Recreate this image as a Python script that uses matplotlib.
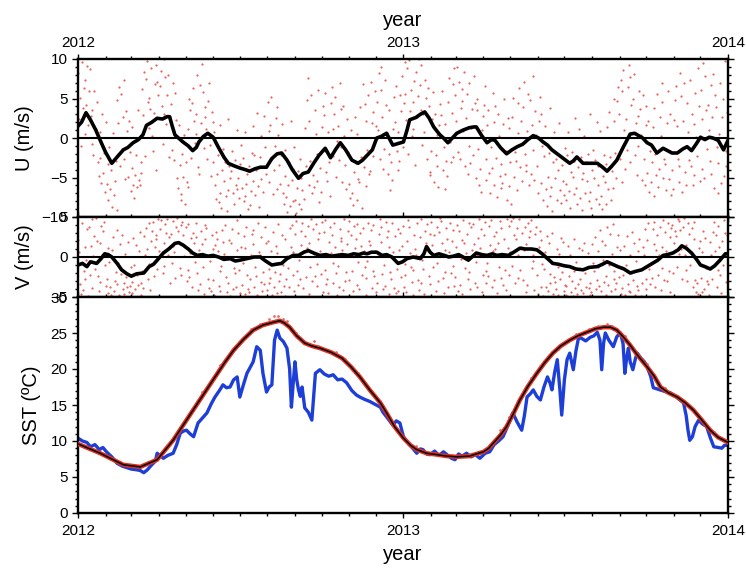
import numpy as np
import matplotlib
matplotlib.use('Agg')
import matplotlib.pyplot as plt
import matplotlib.dates as mdates
from matplotlib.ticker import MultipleLocator

plt.rcParams['font.family'] = ['Liberation Sans', 'DejaVu Sans']

# ---------------- data (days since 2012-01-01) ----------------
u_line_days = [0,4,9,14,20,25,31,38,44,51,56,62,68,73,77,83,89,95,100,103,106,109,114,118,124,129,133,136,141,146,
               152,158,164,169,175,182,188,193,199,205,212,218,224,229,235,241,248,253,259,265,271,278,284,290,295,
               301,308,315,320,325,331,336,341,347,354,360,366,370,373,380,385,390,395,400,407,411,416,421,426,433,
               440,445,448,454,460,465,469,475,482,488,494,500,506,512,518,523,528,533,540,547,553,557,561,568,576,
               584,590,595,600,606,613,621,626,629,635,640,645,651,658,663,668,674,680,685,690,695,700,705,710,714,
               720,726,731]
u_line_vals = [1.5,2.0,3.2,2.3,1.0,-0.3,-1.8,-3.2,-2.4,-1.5,-1.2,-0.6,-0.2,0.4,1.6,2.0,2.5,2.4,2.7,2.7,1.5,0.4,-0.1,-0.5,
               -1.0,-1.6,-1.2,-0.5,0.2,0.6,0.1,-1.2,-2.4,-3.2,-3.5,-3.8,-4.0,-4.2,-3.9,-3.7,-3.7,-2.6,-2.0,-1.9,-2.8,
               -4.0,-5.1,-4.5,-4.3,-3.2,-2.2,-1.3,-2.5,-1.4,-0.6,-1.5,-2.8,-3.2,-2.8,-2.2,-1.5,0.0,0.2,0.6,-0.9,-0.7,
               -0.5,1.0,2.3,2.6,3.0,3.3,2.5,1.4,0.4,0.0,-0.6,0.0,0.6,1.0,1.3,1.4,1.4,0.3,-0.6,-0.2,-0.3,-1.2,-2.0,
               -1.5,-1.1,-0.8,-0.2,0.3,0.0,-0.5,-0.9,-1.5,-2.1,-2.7,-3.2,-2.9,-2.4,-3.2,-3.2,-3.2,-3.7,-4.2,-3.6,
               -2.8,-1.2,0.5,0.6,0.4,0.0,-0.6,-0.9,-1.9,-1.3,-1.6,-1.9,-1.9,-1.4,-1.1,-1.6,-0.8,0.1,-0.2,0.1,0.0,
               -0.3,-1.5,-0.3]

v_line_days = [0,5,10,14,21,26,30,34,38,44,49,55,60,66,74,80,85,89,96,102,109,113,118,124,129,134,140,146,152,158,
               164,171,177,182,190,198,205,211,218,223,229,235,242,248,254,259,265,272,279,285,291,297,304,310,316,
               321,325,330,336,342,347,353,360,365,370,377,381,385,389,392,396,400,406,412,417,422,428,433,439,444,
               448,454,460,466,471,477,484,490,497,503,510,516,522,528,534,540,547,553,560,568,575,584,590,595,601,
               607,614,621,627,634,640,646,652,658,663,669,675,679,684,690,695,700,705,711,716,722,728,731]
v_line_vals = [-1.0,-0.8,-1.2,-0.6,-0.8,-0.2,0.4,0.3,0.0,-0.8,-1.6,-2.1,-2.4,-2.1,-2.0,-1.2,-0.9,-0.4,0.5,1.0,1.7,1.8,
               1.5,1.0,0.5,0.2,0.3,0.1,0.2,0.0,-0.3,-0.2,-0.5,-0.4,-0.2,0.0,0.0,-0.5,-1.0,-0.9,-0.8,-0.2,0.2,0.2,0.6,
               0.8,0.5,0.2,0.3,0.1,0.2,0.3,0.2,0.4,0.3,0.5,0.4,0.6,0.6,0.2,0.3,0.0,-0.8,-0.6,-0.2,0.0,-0.1,-0.2,0.4,
               1.3,0.6,0.2,0.4,0.2,0.0,0.1,0.3,0.0,-0.4,0.1,0.5,0.3,0.2,0.4,0.2,0.3,0.2,0.6,1.1,1.0,1.0,0.9,0.4,-0.2,
               -0.8,-0.9,-1.1,-1.2,-1.5,-1.6,-1.3,-1.2,-0.9,-0.6,-0.9,-1.2,-1.5,-2.0,-1.8,-1.6,-1.2,-0.8,-0.4,0.2,
               0.3,0.5,0.9,1.4,1.1,0.5,-0.2,-1.0,-1.2,-1.5,-1.1,-0.4,0.4,0.4]

# scattered wind observations: 4 values per 4-day slot
u_dots = [
    [8.2,5.1,2.4,-1.0],[9.6,6.3,3.8,0.5],[7.4,9.1,4.2,1.6],[6.0,2.8,8.7,-0.8],[3.5,5.9,-2.2,1.1],[1.2,-3.0,4.6,-4.8],
    [-2.5,-5.7,0.8,3.1],[-4.4,-6.8,-1.9,2.0],
    [-5.8,-7.9,-3.3,-1.2],[-6.4,-8.7,-4.1,0.6],[-7.2,-2.9,-5.5,-9.1],[4.8,6.5,1.9,-3.6],[5.6,2.7,-1.4,7.3],
    [-2.6,3.4,-5.2,0.9],[-4.9,-1.8,2.2,-6.7],
    [-3.8,-5.9,1.4,-7.6],[-4.7,-6.2,-2.1,3.5],[-5.3,-4.4,-6.0,-3.0],[6.2,8.4,2.9,-2.3],[7.5,4.6,9.8,1.3],
    [5.1,8.9,3.7,0.2],[-1.6,6.8,3.2,-4.0],[9.3,5.5,7.1,2.5],
    [6.6,4.1,8.5,-0.7],[3.0,7.7,10.0,1.8],[5.4,-2.4,8.0,2.6],[4.3,6.9,-1.5,1.0],[-2.8,2.3,5.7,-5.0],
    [-6.3,-3.4,1.7,-7.8],[-7.1,-4.9,-2.0,0.4],
    [-8.4,-5.6,-3.0,1.2],[-6.2,3.6,5.0,-2.5],[4.4,2.2,6.3,-0.6],[3.1,8.0,0.5,-3.7],[-4.6,1.9,6.7,9.4],
    [5.8,2.7,-1.3,3.9],[1.1,4.7,-2.6,7.0],[-0.9,3.3,-4.8,2.0],
    [-3.1,-6.0,0.8,-7.7],[-4.5,-8.1,-2.2,1.6],[-6.9,-4.0,-8.8,-1.4],[-5.4,-7.3,-3.0,-9.2],[-6.6,-3.5,2.4,-5.0],
    [-4.2,-7.0,-1.7,-8.3],[-2.8,1.0,-5.9,-6.4],[-5.1,-3.3,-7.6,-0.9],
    [-6.3,-8.0,-2.5,0.7],[-7.4,-4.6,-5.8,-9.0],[-3.6,-6.7,-8.5,-1.9],[-5.5,-2.1,1.5,-7.2],[-4.0,-6.1,3.2,-8.7],
    [-2.4,-5.2,0.3,-3.7],[-6.8,-1.2,2.8,-4.5],
    [-3.3,0.9,4.6,-5.6],[1.7,-2.6,5.2,-7.1],[-4.1,2.5,-1.0,-6.4],[3.9,-3.4,0.4,-5.8],[-2.2,-6.9,1.8,-8.3],
    [-4.8,-7.5,-1.5,-9.4],[-6.0,-8.6,-3.1,2.2],[-5.3,-8.0,-3.9,-1.1],
    [-7.8,-6.3,-9.5,-4.2],[-8.4,-5.0,-2.7,-9.0],[-6.6,-7.7,-4.4,1.3],[-3.6,7.6,4.8,-5.9],[2.1,5.5,-2.9,-7.0],
    [-4.7,3.6,-6.2,0.5],[-2.0,6.1,-5.4,-8.1],[-3.8,1.4,-6.8,4.0],
    [2.9,-1.6,5.7,-4.3],[-5.5,-3.0,0.7,-7.4],[4.4,-2.3,6.5,1.2],[3.0,-4.9,5.2,-0.4],[1.5,6.9,-2.8,3.7],
    [-1.2,4.1,-5.6,0.3],[-3.4,2.4,-6.5,-1.8],
    [-5.8,-7.6,-2.1,1.0],[-6.9,-4.3,-8.5,2.6],[-3.2,-7.9,0.5,-5.2],[-5.6,-2.4,3.9,-8.8],[6.8,4.3,-3.7,-6.1],
    [2.2,5.4,-1.5,-4.6],[-4.2,1.9,7.1,-2.3],[3.3,6.0,-0.8,1.5],
    [4.6,8.2,1.0,-2.7],[6.1,2.6,9.0,-3.9],[-1.4,4.2,7.4,0.6],[-4.5,-2.0,3.6,-6.6],[-3.1,1.1,-5.3,5.2],
    [2.0,-1.7,6.6,-4.0],[0.8,5.5,-2.9,3.4],
    [7.8,4.4,-1.1,9.6],[5.6,8.8,2.3,-2.0],[9.9,6.1,3.4,0.3],[4.6,7.2,1.2,-3.4],[8.4,5.3,2.7,10.0],
    [6.7,3.6,9.2,-0.9],[3.0,7.4,0.8,5.1],[-2.6,4.0,6.3,-4.7],
    [-4.3,2.4,-1.7,5.8],[-5.6,-2.2,3.1,0.4],[-3.5,1.6,-6.2,4.3],[2.9,-4.1,6.0,-1.1],[-6.4,-2.9,1.8,-4.8],
    [4.5,-0.5,7.6,-3.0],[3.2,6.8,-2.4,8.9],
    [5.4,9.0,2.1,-1.8],[7.1,3.8,-2.7,6.2],[4.7,8.3,0.9,-3.5],[2.5,-4.6,5.6,-1.0],[6.9,1.3,-3.2,3.7],
    [-2.2,4.4,7.8,-5.1],[3.6,-1.4,5.0,-6.0],[-3.9,1.0,-6.8,2.8],
    [4.2,-2.6,6.6,-5.3],[1.6,-4.4,3.5,-7.0],[-1.2,5.7,-3.8,2.0],[-5.9,-2.5,4.1,-7.5],[3.0,-4.8,0.2,-6.3],
    [-3.3,1.8,-5.7,4.9],[-4.5,-7.8,-1.6,2.5],
    [-6.1,-3.0,1.3,-8.4],[2.7,-4.9,5.1,-1.8],[-2.9,4.4,-6.6,0.6],[6.3,2.1,-3.7,-5.5],[3.9,-2.0,7.1,-4.2],
    [-3.4,5.6,0.9,-6.0],[4.8,1.7,-4.5,7.9],[-1.5,3.4,-5.3,0.4],
    [-3.6,2.2,-6.9,5.2],[-5.7,-1.0,3.0,-7.9],[-2.3,-6.4,1.5,-8.6],[-4.9,-7.4,-1.9,3.8],[-6.2,-3.1,-9.3,0.7],
    [-5.0,-7.8,-2.6,-10.0],[-4.1,-6.6,1.9,-8.2],[-3.4,-7.2,-5.5,-1.3],
    [-5.8,-2.2,-7.9,0.8],[-6.7,-4.3,-8.8,-1.8],[-4.9,-7.1,-2.9,2.5],[-6.3,-3.7,-8.4,1.2],[-7.6,-5.2,-2.4,-9.1],
    [-4.4,-6.9,0.3,-3.0],[-5.5,-8.0,-2.0,3.1],
    [-6.8,-4.0,-8.9,-1.5],[-5.1,-7.7,-2.8,2.0],[-6.0,-8.3,-3.6,0.9],[-7.3,-4.8,-9.0,-2.1],[-5.6,-8.4,-3.3,1.4],
    [-6.5,-2.4,3.3,-7.9],[-4.2,2.2,-6.3,5.0],[-1.9,4.7,-5.0,6.5],
    [3.1,7.3,-2.7,-5.6],[5.9,1.0,8.6,-3.9],[2.4,6.5,-1.5,9.3],[-3.0,4.2,7.7,0.6],[5.0,-2.2,8.1,1.9],
    [-4.7,2.8,-1.0,6.0],[3.7,-5.3,0.4,5.5],[-2.6,1.6,-6.0,4.1],
    [-4.4,-6.8,2.2,-1.7],[-5.6,1.4,-3.1,-7.4],[3.8,-4.7,-2.0,5.6],[-6.2,2.6,-3.9,0.2],[4.5,-5.0,7.0,-2.6],
    [-3.3,1.9,-6.6,5.9],[-5.2,3.0,-1.6,-7.2],
    [-4.0,2.3,-6.4,4.8],[6.6,-2.7,1.5,-5.6],[-3.5,5.3,8.2,-6.8],[2.1,-4.3,6.9,-1.2],[-5.9,0.7,4.4,-2.8],
    [7.4,3.1,-3.6,-6.0],[1.8,5.7,-4.7,0.1],[-2.3,4.0,8.8,-5.4],
    [6.1,2.4,-3.9,9.5],[-5.0,3.6,7.8,-1.4],[4.2,-2.9,1.0,6.7],[-4.6,8.1,2.7,-6.3],[5.4,-1.1,3.9,-7.0],
    [-3.2,6.9,0.5,-5.7],[2.6,-4.8,5.0,9.7],[-1.7,3.3,-3.6,1.2],
]

v_dots = [
    [2.1,-3.4,0.6,-4.6],[4.3,-1.8,-4.1,1.2],[-2.7,3.5,-0.4,-4.9],[3.8,1.4,-2.2,4.7],[-3.9,2.6,0.1,-1.5],
    [4.9,-2.4,2.0,-4.2],[1.7,3.9,-3.1,0.3],[3.2,-1.0,4.4,-3.6],
    [-2.8,-4.5,1.1,-0.6],[-3.7,0.9,-4.8,2.5],[-4.2,-1.9,-3.0,3.4],[-3.4,-4.7,-0.8,1.6],[-2.1,-4.0,2.8,-3.2],
    [-4.6,-2.5,0.4,-3.8],[1.9,-3.6,-4.4,-1.3],
    [-3.1,2.4,-4.5,-1.0],[-4.0,-2.2,1.5,-3.5],[0.8,-3.3,3.1,-4.8],[-1.7,2.6,-3.9,0.2],[3.6,-2.8,1.0,4.2],
    [-0.9,2.0,-4.1,3.3],[4.4,1.3,-2.4,2.7],[2.2,4.8,-1.5,0.7],
    [3.5,0.4,4.6,-2.0],[1.8,4.1,-1.1,3.0],[4.7,2.5,0.2,-3.3],[2.9,4.5,-0.7,1.4],[0.6,3.8,-2.6,4.9],
    [3.3,-1.4,1.9,4.0],[-2.3,2.7,4.4,0.1],
    [1.2,-3.0,3.7,-1.6],[4.1,0.5,-2.5,2.4],[-3.8,1.7,3.0,-0.6],[2.5,-2.0,4.3,-4.1],[0.9,3.2,-3.4,1.6],
    [-1.3,4.0,-4.6,2.2],[3.6,-2.7,0.3,-3.9],[-0.5,2.8,-4.3,1.0],
    [-2.9,1.5,-4.7,3.1],[2.3,-3.6,0.7,-1.8],[-4.2,3.4,-1.1,1.9],[0.4,-2.5,4.0,-4.4],[-3.3,2.1,-0.2,-4.9],
    [1.7,-4.0,3.5,-1.4],[-2.0,0.9,-3.7,4.6],[3.0,-4.5,-1.6,1.3],
    [-3.5,2.6,-0.8,-4.6],[1.1,-2.3,3.8,-4.0],[-4.4,0.3,-2.7,2.9],[3.4,-3.8,1.6,-1.2],[-2.4,4.2,-4.7,0.6],
    [0.2,-3.1,2.5,-4.3],[-1.9,3.7,-3.4,1.8],
    [-4.1,-1.5,2.0,-3.2],[-2.6,-4.8,0.8,3.1],[-3.7,1.4,-1.9,-4.5],[0.5,-3.0,4.1,-2.1],[-4.4,-1.0,2.7,-3.6],
    [2.3,-2.7,-4.9,0.1],[-1.4,3.6,-3.8,1.2],[4.0,-2.2,0.6,-4.2],
    [2.9,-1.7,4.5,-3.5],[-0.4,3.3,-2.8,1.5],[4.3,0.8,-3.9,2.6],[-2.5,3.9,1.1,-4.6],[1.8,4.7,-1.2,-3.0],
    [3.5,-2.4,0.4,4.1],[-3.6,2.2,-0.9,3.0],[0.7,4.4,-2.1,-4.4],
    [3.1,-1.6,4.6,-3.4],[-2.7,1.9,-4.5,3.7],[0.5,-3.2,2.8,-0.8],[4.2,-2.0,1.3,-4.7],[-1.1,3.5,-3.8,2.0],
    [2.4,-4.1,0.9,4.8],[-3.0,1.6,-1.9,3.3],
    [4.5,0.2,-2.9,2.7],[-1.8,3.9,-4.3,1.1],[2.2,-3.5,4.1,-0.6],[-4.0,1.4,3.0,-2.3],[3.6,-1.3,0.7,-4.8],
    [-2.6,4.3,-0.5,2.0],[1.5,-3.9,3.4,-1.7],[4.0,0.8,-2.4,-4.4],
    [-3.3,2.9,0.4,4.7],[1.9,-2.1,3.8,-4.0],[-1.0,4.4,-3.6,2.5],[3.2,-4.6,1.2,-1.9],[-2.8,0.6,4.2,-3.9],
    [2.6,-1.5,-4.5,3.5],[-4.2,3.0,0.9,-2.5],
    [1.4,-3.7,3.9,-0.9],[-2.3,2.0,-4.4,4.6],[3.7,-1.2,0.5,-3.1],[-4.7,2.8,-1.6,1.0],[0.3,-2.9,4.3,-4.1],
    [2.5,4.8,-3.3,-0.4],[-1.5,3.3,-4.6,1.7],[4.1,-2.4,0.8,2.9],
    [-3.4,1.5,4.4,-1.2],[2.7,-4.3,0.1,3.8],[-0.7,3.1,-3.0,4.9],[4.5,-2.6,1.8,-4.5],[0.9,3.6,-1.9,2.3],
    [-3.8,4.2,0.6,-2.0],[2.0,-1.1,3.4,-3.6],
    [-2.5,4.0,1.3,-4.2],[3.3,-0.3,-3.5,2.1],[-4.6,1.8,4.6,-1.4],[0.5,-2.8,2.9,4.3],[-1.9,3.7,-4.0,0.9],
    [4.1,-3.3,1.6,-0.6],[-3.7,2.4,0.2,4.7],[1.1,-4.4,3.5,-2.2],
    [2.8,-1.7,4.4,-3.2],[-0.8,3.9,-2.4,1.5],[4.6,0.7,-3.8,2.6],[-2.9,3.1,1.0,-4.5],[1.7,4.5,-1.3,-2.6],
    [3.6,-3.5,0.4,2.2],[-1.6,4.8,-4.1,1.1],
    [3.9,0.6,-2.2,4.5],[-1.1,2.7,4.9,-3.3],[2.2,-2.6,3.6,0.3],[4.7,1.2,-1.6,3.0],[-2.9,3.8,0.9,-4.4],
    [1.6,4.3,-3.5,2.5],[3.3,-1.4,4.6,-0.5],[0.2,2.9,-4.1,3.7],
    [-2.2,1.3,-4.6,3.2],[-3.7,-0.9,2.1,-4.9],[-1.5,-3.8,0.6,2.6],[-4.3,-2.1,1.7,-3.3],[-0.7,-4.6,3.0,-2.5],
    [-3.1,1.0,-4.0,-1.3],[-4.8,-2.7,0.4,2.4],[-1.9,-4.2,1.9,-3.5],
    [-3.6,-1.1,-4.7,1.4],[-2.4,-4.4,0.3,-3.0],[-4.9,-1.8,2.2,-3.9],[-0.6,-3.4,-4.6,1.1],[-2.8,0.9,-4.1,-1.5],
    [-4.5,-2.0,1.8,-3.7],[-1.2,-3.9,0.5,-4.8],
    [-3.3,1.6,-4.4,-0.8],[-1.7,-4.0,2.5,-2.9],[0.7,-3.6,-1.3,3.4],[-4.2,-0.4,2.0,-3.1],[1.5,-2.4,-4.7,3.8],
    [-3.5,2.9,-1.0,-4.3],[0.4,-2.7,4.1,-1.8],[-4.0,1.2,-3.2,2.7],
    [-2.5,-4.6,0.9,-1.2],[-3.9,1.4,-2.2,-4.8],[-1.0,-3.4,2.6,-4.2],[-4.4,-2.0,0.2,3.1],[-2.9,-4.7,1.8,-0.5],
    [-3.6,0.8,-4.1,2.3],[-1.6,-3.2,-4.9,1.2],[0.3,-2.8,3.5,-4.0],
    [2.1,-1.5,4.3,-3.4],[-0.7,3.5,-2.6,1.6],[4.4,0.9,-3.8,2.8],[-2.2,3.8,0.3,-4.1],[1.3,4.6,-1.4,-2.9],
    [3.1,-3.0,0.7,4.2],[-1.8,2.5,-4.4,3.6],
    [4.0,1.7,-2.0,3.2],[2.6,4.8,-1.2,0.4],[4.5,1.0,3.4,-2.8],[3.7,0.2,4.9,-1.6],[1.5,4.2,-3.0,2.9],
    [-1.0,3.6,0.5,-3.8],[2.3,-2.9,4.4,-4.4],[-3.2,1.1,-4.6,2.0],
    [-2.6,0.6,-4.4,3.3],[-4.0,-1.4,2.4,-3.0],[-3.4,1.9,-4.8,0.3],[-1.3,3.1,-2.7,4.4],[0.8,-3.8,2.7,-1.6],
    [3.9,-2.3,1.2,-4.5],[2.0,4.6,-1.0,3.0],[-3.1,2.8,0.5,4.1],
]

sst_clim_days = [0,25,51,70,89,107,122,137,152,165,175,186,197,208,220,227,232,238,246,255,263,272,285,297,307,317,
                 328,340,347,356,366,374,381,392,404,415,426,440,456,462,467,475,482,490,497,506,516,525,534,543,553,
                 562,572,582,591,599,606,613,621,630,640,648,655,664,674,683,692,701,711,720,731]
sst_clim_vals = [9.6,8.3,6.7,6.4,7.4,10.1,12.9,15.7,18.5,20.9,22.6,24.1,25.4,26.1,26.5,26.7,26.4,25.8,24.6,23.6,23.2,
                 22.9,22.3,21.5,20.3,18.9,17.1,15.3,13.9,12.0,10.4,9.4,8.8,8.3,8.1,7.9,7.8,7.9,8.5,9.0,9.7,10.8,12.0,
                 13.9,15.7,17.6,19.4,20.9,22.2,23.2,24.0,24.6,25.1,25.6,25.8,25.8,25.4,24.5,23.3,21.8,20.3,19.0,17.5,
                 16.7,16.1,15.3,14.3,13.0,11.5,10.5,9.8]

sst_obs_days = [0,5,10,14,19,24,28,32,38,44,50,55,60,66,70,74,78,83,87,89,92,96,101,107,111,115,119,122,126,130,135,
                140,145,150,154,159,163,167,171,175,179,182,186,190,194,197,201,205,208,212,215,218,221,224,227,231,
                235,238,240,242,244,246,248,250,252,255,259,263,267,272,277,282,287,292,297,302,308,313,317,322,328,
                334,340,343,348,354,358,362,366,372,377,381,385,388,392,396,401,406,411,416,420,424,428,432,437,442,
                447,452,458,463,468,473,478,483,489,494,499,502,505,509,512,516,520,524,528,531,533,536,539,542,544,
                547,550,553,557,560,563,567,571,576,580,584,587,589,591,593,597,602,606,610,613,615,617,619,621,624,
                627,629,633,637,640,644,647,652,657,662,666,672,677,681,684,686,688,691,694,698,702,707,711,715,720,
                724,727,731]
sst_obs_vals = [10.4,10.0,9.8,9.2,9.5,8.8,9.1,8.5,7.8,6.9,6.5,6.3,6.1,6.0,5.9,5.6,6.0,6.7,7.2,8.3,8.0,7.6,8.0,8.3,9.5,
                11.1,11.4,11.5,11.0,10.6,12.5,13.2,13.9,15.2,16.1,17.0,17.8,17.4,17.5,18.5,18.9,16.1,17.8,19.4,20.3,
                21.0,23.1,22.6,19.4,16.8,17.5,17.8,24.0,25.4,24.3,23.8,22.9,20.0,14.7,18.0,21.0,18.5,17.1,16.2,17.5,
                14.6,14.0,12.9,19.4,19.9,19.3,19.0,19.2,18.5,18.6,18.1,17.0,16.4,16.1,15.8,15.5,15.1,14.7,14.0,13.2,
                12.2,12.8,12.5,10.6,9.6,8.9,8.3,8.9,8.8,8.2,8.1,8.6,8.0,8.5,8.0,7.6,7.4,8.2,7.9,8.3,7.8,8.1,7.6,8.3,
                8.5,9.5,10.0,10.6,12.0,13.9,12.6,11.5,13.5,16.1,16.6,17.1,16.2,15.7,17.5,18.9,18.0,17.1,19.5,21.3,
                17.0,13.6,18.5,21.3,22.2,19.9,22.5,24.4,24.2,23.9,24.4,24.6,25.1,24.0,19.9,23.5,25.0,24.0,23.1,24.5,
                25.0,23.5,19.4,21.5,22.9,21.0,19.9,21.5,22.2,21.5,21.0,20.3,19.0,17.4,17.2,17.0,16.8,16.7,16.2,15.7,
                15.3,13.5,11.5,10.1,10.6,12.0,12.9,12.4,12.0,10.5,9.2,9.1,9.0,9.4,9.4]

sst_dot_days = [100,110,130,140,160,180,195,205,215,220,225,230,235,245,260,265,270,290,300,315,340,380,440,455,475,
                485,500,510,520,540,560,575,585,595,600,615,625,640,660,700,715]
sst_dot_vals = [9.5,10.8,14.6,16.8,20.5,23.4,25.6,26.3,27.0,27.3,27.4,26.9,26.7,25.0,23.5,23.9,23.2,22.4,21.4,19.4,
                15.6,9.3,8.2,8.6,11.5,13.4,16.7,18.7,20.4,22.8,24.8,25.5,26.0,26.3,26.0,24.6,22.8,20.7,17.4,13.3,11.2]

# ---------------- helpers ----------------
t0 = np.datetime64('2012-01-01')
def dnum(days):
    return mdates.date2num(t0 + np.asarray(days, dtype='timedelta64[h]'))

def dot_xy(dots):
    arr = np.asarray(dots)
    n = arr.shape[0]
    # four samples spread inside each 4-day slot (hours offsets)
    offs = np.array([6, 55, 30, 80])
    hours = (96 * np.arange(n)[:, None] + offs[None, :]).ravel()
    return dnum(hours), arr.ravel()

def dd(days):
    return dnum(np.asarray(days) * 24)

W, H = 746, 569
fig = plt.figure(figsize=(W / 100, H / 100), dpi=100)
L = 78 / W
Wd = 650 / W
axU = fig.add_axes([L, 1 - 217 / H, Wd, 158 / H])
axV = fig.add_axes([L, 1 - 297 / H, Wd, 80 / H])
axS = fig.add_axes([L, 1 - 513 / H, Wd, 216 / H])

xmin = dd([0])[0]
xmax = dd([731])[0]

dot_color = '#e04a44'
# U panel
x, y = dot_xy(u_dots)
axU.scatter(x, y, s=2.6, color=dot_color, alpha=0.85, linewidths=0, zorder=1)
axU.axhline(0, color='black', lw=1.5, zorder=2)
axU.plot(dd(u_line_days), u_line_vals, color='black', lw=2.6, zorder=3)
axU.set_ylim(-10, 10)
axU.yaxis.set_major_locator(MultipleLocator(5))
axU.yaxis.set_minor_locator(MultipleLocator(1))
axU.set_ylabel('U (m/s)', fontsize=14.5)

# V panel
x, y = dot_xy(v_dots)
axV.scatter(x, y, s=2.6, color=dot_color, alpha=0.85, linewidths=0, zorder=1)
axV.axhline(0, color='black', lw=1.5, zorder=2)
axV.plot(dd(v_line_days), v_line_vals, color='black', lw=2.6, zorder=3)
axV.set_ylim(-5, 5)
axV.yaxis.set_major_locator(MultipleLocator(5))
axV.yaxis.set_minor_locator(MultipleLocator(1))
axV.set_ylabel('V (m/s)', fontsize=14.5)

# SST panel
axS.plot(dd(sst_obs_days), sst_obs_vals, color='#1d3fd8', lw=2.4, zorder=2)
axS.plot(dd(sst_clim_days), sst_clim_vals, color='#e0301e', lw=3.2, zorder=3)
axS.plot(dd(sst_clim_days), sst_clim_vals, color='black', lw=1.1, zorder=4)
axS.scatter(dd(sst_dot_days), sst_dot_vals, s=4, color=dot_color, alpha=0.8, linewidths=0, zorder=3)
axS.set_ylim(0, 30)
axS.yaxis.set_major_locator(MultipleLocator(5))
axS.yaxis.set_minor_locator(MultipleLocator(1))
axS.set_ylabel('SST (ºC)', fontsize=14.5)

for ax in (axU, axV, axS):
    ax.set_xlim(xmin, xmax)
    ax.xaxis.set_major_locator(mdates.YearLocator())
    ax.xaxis.set_minor_locator(mdates.MonthLocator())
    ax.xaxis.set_major_formatter(mdates.DateFormatter('%Y'))
    for s in ax.spines.values():
        s.set_linewidth(1.7)
    ax.tick_params(axis='y', which='both', direction='out', left=True, right=True, labelsize=11, pad=3.5,
                   width=1.0)
    ax.tick_params(axis='y', which='major', length=4)
    ax.tick_params(axis='y', which='minor', length=2.2)
    ax.tick_params(axis='x', which='both', direction='out', top=True, bottom=True, labelsize=11, width=1.0)
    ax.tick_params(axis='x', which='major', length=3.5)
    ax.tick_params(axis='x', which='minor', length=2.5)
    ax.yaxis.set_label_coords(-0.068, 0.5)

axS.yaxis.set_label_coords(-0.057, 0.5)
axU.tick_params(axis='x', labeltop=True, labelbottom=False, pad=3)
axV.tick_params(axis='x', labeltop=False, labelbottom=False)
axS.tick_params(axis='x', labeltop=False, labelbottom=True, pad=4.5)

fig.text(403 / W, 1 - 20 / H, 'year', ha='center', va='center', fontsize=14.5)
fig.text(403 / W, 1 - 555 / H, 'year', ha='center', va='center', fontsize=14.5)

fig.savefig('out.png', dpi=100, facecolor='white')
